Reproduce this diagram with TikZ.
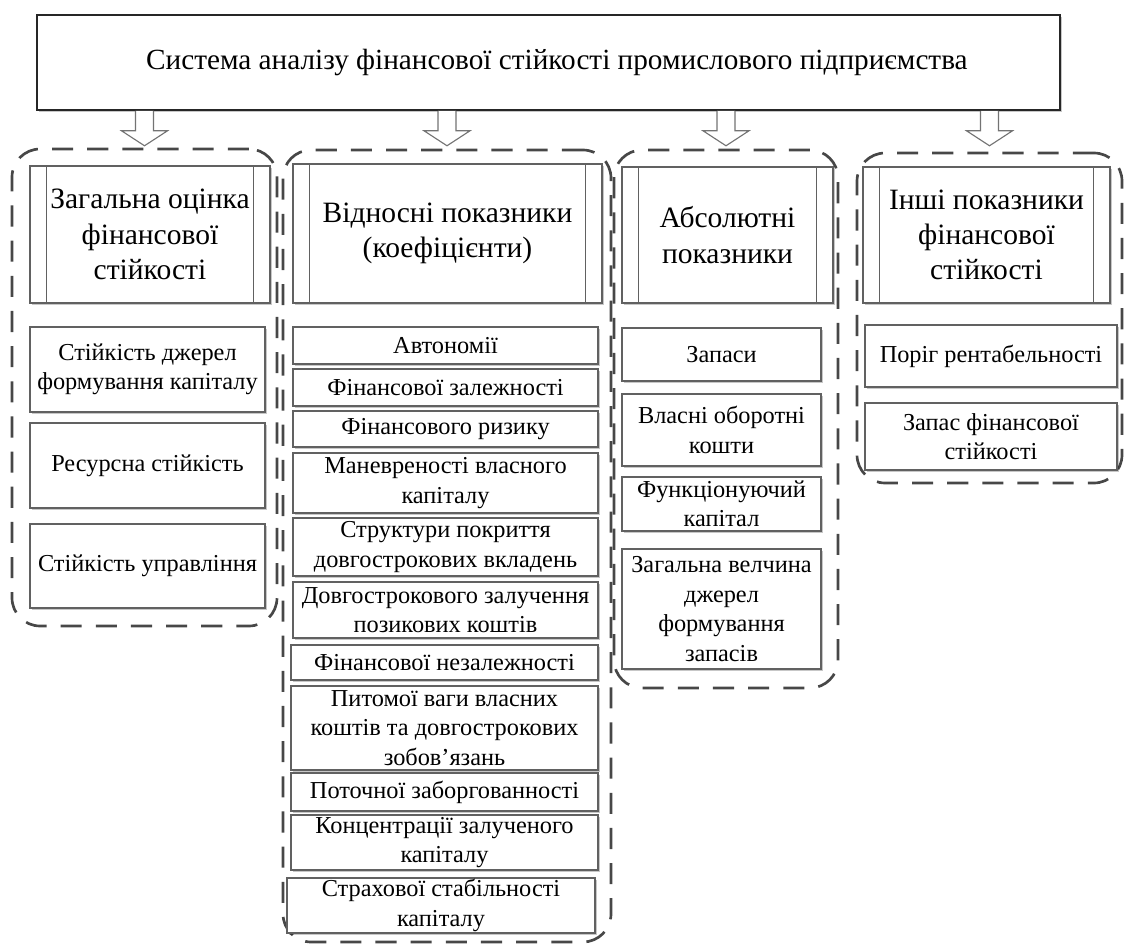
\documentclass[tikz,border=0pt]{standalone}
\usepackage{fontspec}
\setmainfont{Liberation Serif}[Ligatures=TeX]
\usetikzlibrary{calc,shadows}
\begin{document}
\begin{tikzpicture}[x=0.025cm,y=-0.025cm,
  bb/.style n args={4}{minimum width={(#3-#1)*0.025cm}, minimum height={(#4-#2)*0.025cm},
     at={({(#1+#3)/2},{(#2+#4)/2})}},
  cont/.style={draw=black!72, line width=1.9pt, dash pattern=on 15pt off 10pt, rounded corners=20pt, inner sep=0pt},
  shad/.style={drop shadow={shadow xshift=1.4pt, shadow yshift=-1.4pt, opacity=0.22, fill=black}},
  sbox/.style={draw=black!62, line width=0.8pt, fill=white, inner sep=0pt, align=center, shad,
    font=\fontsize{17.3}{21}\selectfont},
  hbox/.style={sbox, font=\fontsize{21}{25}\selectfont},
  tbox/.style={draw=black!85, line width=1.1pt, fill=white, inner sep=0pt, align=center, shad,
    font=\fontsize{20.8}{25}\selectfont},
  ppline/.style={draw=black!62, line width=0.8pt},
  blockarr/.pic={\draw[draw=black!55, fill=white, line width=0.8pt, line join=miter]
     (-9,0) -- (-9,20) -- (-23,20) -- (0,35) -- (23,20) -- (9,20) -- (9,0);}
]
\useasboundingbox (0,0) rectangle (1131,946);

% dashed containers
\node[cont, bb={12}{149}{277}{626}] (c1) {};
\node[cont, bb={283}{150}{611}{942}] (c2) {};
\node[cont, bb={614}{150}{838}{688}] (c3) {};
\node[cont, bb={857}{153}{1122}{483}] (c4) {};

% title
\node[tbox, bb={37}{15}{1060}{110}] (title) {\hspace*{12pt}Система аналізу фінансової стійкості промислового підприємства};

% block arrows
\pic at (title.south -| c1.north) {blockarr};
\pic at (title.south -| c2.north) {blockarr};
\pic at (title.south -| c3.north) {blockarr};
\pic at (title.south -| c4.north) {blockarr};

% headers
\node[hbox, bb={30}{166}{270}{303}] (h1) {Загальна оцінка\\фінансової\\стійкості};
\node[hbox, bb={293}{164}{602}{303}] (h2) {Відносні показники\\(коефіцієнти)};
\node[hbox, bb={622}{167}{833}{303}] (h3) {Абсолютні\\показники};
\node[hbox, bb={863}{167}{1110}{303}] (h4) {Інші показники\\фінансової\\стійкості};
\foreach \h in {h1,h2,h3,h4}{
  \draw[ppline] ($(\h.north west)+(17,0)$) -- ($(\h.south west)+(17,0)$);
  \draw[ppline] ($(\h.north east)+(-17,0)$) -- ($(\h.south east)+(-17,0)$);
}

% column 1
\node[sbox, bb={30}{327}{265}{412}] (b11) {Стійкість джерел\\формування капіталу};
\node[sbox, bb={30}{423}{265}{508}] (b12) {Ресурсна стійкість};
\node[sbox, bb={30}{524}{265}{608}] (b13) {Стійкість управління};

% column 2
\node[sbox, bb={293}{327}{598}{364}] (b21) {Автономії};
\node[sbox, bb={293}{369}{598}{406}] (b22) {Фінансової залежності};
\node[sbox, bb={293}{411}{598}{447}] (b23) {Фінансового ризику};
\node[sbox, bb={293}{453}{598}{513}] (b24) {Маневреності власного\\капіталу};
\node[sbox, bb={293}{518}{598}{576}] (b25) {Структури покриття\\довгострокових вкладень};
\node[sbox, bb={293}{582}{598}{638}] (b26) {Довгострокового залучення\\позикових коштів};
\node[sbox, bb={291}{645}{598}{680}] (b27) {Фінансової незалежності};
\node[sbox, bb={291}{686}{598}{770}] (b28) {Питомої ваги власних\\коштів та довгострокових\\зобов’язань};
\node[sbox, bb={291}{773}{598}{811}] (b29) {Поточної заборгованності};
\node[sbox, bb={291}{815}{598}{870}] (b210) {Концентрації залученого\\капіталу};
\node[sbox, bb={287}{878}{595}{933}] (b211) {Страхової стабільності\\капіталу};

% column 3
\node[sbox, bb={622}{328}{821}{381}] (b31) {Запаси};
\node[sbox, bb={622}{394}{821}{466}] (b32) {Власні оборотні\\кошти};
\node[sbox, bb={622}{477}{821}{531}] (b33) {Функціонуючий\\капітал};
\node[sbox, bb={622}{549}{821}{669}] (b34) {Загальна велчина\\джерел\\формування\\запасів};

% column 4
\node[sbox, bb={865}{325}{1117}{387}] (b41) {Поріг рентабельності};
\node[sbox, bb={865}{403}{1117}{470}] (b42) {Запас фінансової\\стійкості};
\end{tikzpicture}
\end{document}
